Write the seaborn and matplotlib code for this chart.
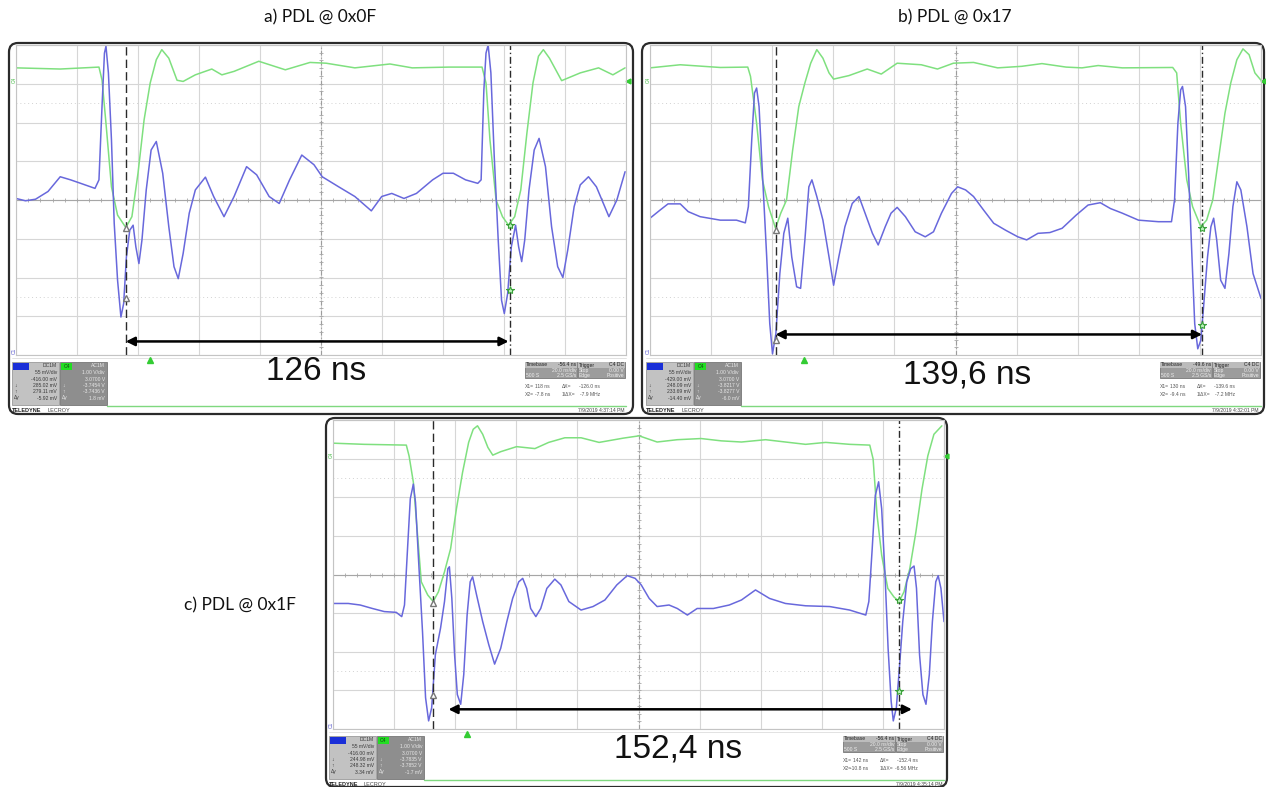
import numpy as np
import matplotlib
matplotlib.use("Agg")
import matplotlib.pyplot as plt
import seaborn as sns
from matplotlib.patches import FancyBboxPatch, Rectangle

# time in ns (20 ns/div, 10 div), amplitude in screen divisions (-4..4)

# ---- a) PDL @ 0x0F
a_green_t = [0.0, 14.5, 27.2, 28.2, 29.5, 31.3, 33.3, 36.0, 38.0, 40.0, 42.0, 44.0, 46.0, 47.8, 50.1, 52.8,
             54.8, 58.8, 64.2, 67.5, 71.5, 79.6, 88.3, 96.4, 101.7, 111.1, 122.6, 129.9, 142.0, 152.8, 154.1,
             155.4, 157.4, 159.5, 161.5, 163.5, 165.5, 167.5, 169.5, 171.3, 172.9, 174.9, 178.9, 185.0, 191.0,
             195.7, 199.7]
a_green_v = [3.41, 3.38, 3.43, 3.10, 1.98, 0.34, -0.39, -0.71, -0.43, 0.69, 2.07, 3.02, 3.62, 3.88, 3.66, 3.09,
             3.06, 3.23, 3.38, 3.23, 3.32, 3.58, 3.36, 3.55, 3.53, 3.41, 3.51, 3.41, 3.43, 3.43, 3.02,
             1.55, 0.0, -0.43, -0.65, -0.43, 0.26, 1.72, 3.02, 3.71, 3.88, 3.66, 3.08, 3.28, 3.41,
             3.23, 3.41]
a_blue_t = [0.0, 3.1, 6.4, 10.5, 14.5, 17.9, 21.2, 25.9, 27.2, 28.2, 29.0, 29.5, 30.3, 31.3, 32.2, 33.3, 34.4,
            35.3, 36.2, 37.3, 38.4, 39.3, 40.3, 41.3, 42.7, 44.3, 46.0, 48.1, 50.1, 51.8, 53.2, 54.8, 56.8,
            58.8, 62.1, 64.8, 68.2, 71.5, 75.6, 78.9, 83.0, 86.3, 89.7, 93.7, 97.7, 100.4, 105.8, 111.1,
            116.5, 119.9, 123.2, 127.2, 131.3, 136.6, 140.0, 143.4, 147.4, 151.4, 152.5, 153.4, 154.1, 154.8,
            155.7, 156.8, 158.1, 159.2, 160.1, 161.2, 162.4, 163.8, 164.8, 165.8, 166.8, 168.2, 169.9, 171.5,
            173.6, 175.6, 177.6, 179.3, 180.9, 183.0, 185.0, 187.7, 190.3, 194.4, 197.0, 199.7]
a_blue_v = [0.04, -0.02, 0.02, 0.22, 0.60, 0.52, 0.43, 0.30, 0.52, 2.41, 3.79, 3.97, 3.28, 1.55, -0.60, -2.07,
            -3.02, -2.67, -1.47, -0.78, -0.65, -1.21, -1.64, -1.03, 0.26, 1.29, 1.51, 0.69, -0.69, -1.72,
            -2.03, -1.38, -0.34, 0.26, 0.59, 0.09, -0.43, 0.09, 0.86, 0.65, 0.09, -0.09, 0.52, 1.16, 0.91,
            0.60, 0.34, 0.09, -0.28, 0.09, 0.17, 0.04, 0.17, 0.52, 0.69, 0.69, 0.52, 0.43, 0.52, 2.84, 3.79,
            4.0, 3.28, 1.12, -1.03, -2.59, -2.93, -2.41, -1.21, -0.65, -1.21, -1.59, -1.03, 0.26, 1.29, 1.59,
            0.86, -0.69, -1.72, -2.00, -1.29, -0.17, 0.39, 0.60, 0.34, -0.43, 0.0, 0.73]
a_cursor = [36.0, 162.0]
a_cursor_green = [-0.71, -0.65]
a_cursor_blue = [-2.54, -2.33]
a_arrow = [36.0, 161.5, -3.65]
a_trigger = 43.8
a_ch1 = ["DC1M", "55 mV/div", "-416.00 mV", "285.02 mV", "279.11 mV", "-5.92 mV"]
a_ch4 = ["AC1M", "1.00 V/div", "3.0700 V", "-3.7454 V", "-3.7436 V", "1.8 mV"]
a_timebase = "-56.4 ns"
a_x1 = ["118 ns", "-126.0 ns"]
a_x2 = ["-7.8 ns", "-7.9 MHz"]
a_date = "7/9/2019 4:37:14 PM"

# ---- b) PDL @ 0x17
b_green_t = [0.0, 9.9, 23.0, 32.0, 32.9, 34.9, 36.8, 38.8, 41.1, 42.8, 44.7, 46.7, 48.7, 50.7, 52.6, 54.6,
             56.6, 58.6, 60.1, 65.1, 71.1, 75.7, 80.9, 88.8, 94.1, 99.3, 105.9, 113.8, 121.7, 128.3, 136.2,
             141.4, 146.7, 154.6, 171.1, 172.4, 173.7, 175.7, 177.6, 180.3, 182.2, 184.2, 186.2, 188.2, 190.1,
             192.1, 194.1, 196.1, 198.0, 200.0]
b_green_v = [3.41, 3.49, 3.42, 3.43, 3.19, 1.98, 0.52, -0.17, -0.73, -0.34, 0.0, 1.29, 2.41, 3.02, 3.53, 3.88,
             3.66, 3.28, 3.12, 3.21, 3.38, 3.25, 3.53, 3.49, 3.38, 3.53, 3.55, 3.41, 3.45, 3.52, 3.43,
             3.41, 3.47, 3.41, 3.42, 3.28, 1.98, 0.52, -0.17, -0.69, -0.52, 0.0, 1.12, 2.24, 3.02,
             3.62, 3.90, 3.75, 3.28, 3.09]
b_blue_t = [0.0, 3.3, 5.9, 9.9, 12.5, 16.4, 23.0, 28.3, 31.2, 32.2, 33.3, 34.2, 34.9, 35.7, 36.8, 38.2, 39.2,
            40.1, 41.2, 42.5, 43.8, 45.1, 46.4, 48.0, 49.3, 50.7, 52.0, 53.0, 54.6, 56.6, 58.6, 60.1, 61.8,
            63.8, 66.2, 68.4, 70.4, 72.8, 74.7, 77.0, 78.9, 80.9, 83.6, 86.8, 90.1, 92.8, 95.4, 98.7, 100.7,
            103.3, 105.9, 109.2, 112.5, 116.4, 120.4, 123.3, 127.0, 130.9, 134.9, 139.5, 143.4, 147.4, 150.7,
            154.6, 159.9, 166.4, 170.7, 171.7, 172.8, 173.7, 174.3, 175.3, 176.3, 177.4, 178.3, 179.3, 180.3,
            181.2, 182.5, 183.6, 184.5, 185.5, 186.8, 188.2, 189.5, 190.8, 192.1, 193.4, 195.4, 197.4, 200.0]
b_blue_v = [-0.47, -0.26, -0.10, -0.10, -0.30, -0.43, -0.52, -0.52, -0.59, -0.17, 1.55, 2.76, 2.89, 2.41, 0.69,
            -1.47, -3.19, -3.97, -3.45, -1.90, -0.86, -0.47, -1.47, -2.24, -2.28, -1.03, 0.34, 0.52, 0.09,
            -0.52, -1.47, -2.20, -1.47, -0.69, -0.09, 0.09, -0.34, -0.86, -1.16, -0.69, -0.34, -0.19, -0.43,
            -0.82, -0.95, -0.82, -0.34, 0.17, 0.34, 0.26, 0.09, -0.26, -0.60, -0.78, -0.95, -1.03, -0.86,
            -0.84, -0.73, -0.39, -0.13, -0.07, -0.22, -0.34, -0.52, -0.56, -0.56, 0.0, 1.98, 2.84, 2.93, 2.41,
            0.69, -1.47, -3.19, -3.84, -3.62, -2.76, -1.47, -0.69, -0.47, -1.03, -2.07, -2.28, -1.38, -0.17,
            0.47, 0.26, -0.69, -1.90, -2.54]
b_cursor = [41.1, 180.7]
b_cursor_green = [-0.77, -0.73]
b_cursor_blue = [-3.62, -3.23]
b_arrow = [41.1, 180.7, -3.47]
b_trigger = 50.4
b_ch1 = ["DC1M", "55 mV/div", "-429.00 mV", "248.09 mV", "233.69 mV", "-14.40 mV"]
b_ch4 = ["AC1M", "1.00 V/div", "3.0700 V", "-3.8217 V", "-3.8277 V", "-6.0 mV"]
b_timebase = "-49.6 ns"
b_x1 = ["130 ns", "-139.6 ns"]
b_x2 = ["-9.4 ns", "-7.2 MHz"]
b_date = "7/9/2019 4:32:01 PM"

# ---- c) PDL @ 0x1F
c_green_t = [0.0, 10.2, 24.0, 24.9, 26.3, 27.6, 28.9, 31.0, 32.8, 34.5, 36.5, 38.5, 40.4, 42.4, 44.4, 45.9,
             47.3, 49.0, 50.7, 52.3, 54.9, 60.1, 66.1, 70.6, 75.9, 81.2, 87.1, 95.0, 100.2, 106.1, 112.7,
             120.5, 127.1, 133.7, 141.6, 148.1, 154.7, 161.3, 169.1, 175.7, 176.8, 178.1, 179.6, 181.6, 183.6,
             185.3, 186.9, 188.8, 190.8, 192.8, 194.7, 196.7, 199.3]
c_green_v = [3.40, 3.37, 3.35, 3.07, 2.39, 1.10, -0.19, -0.53, -0.70, -0.45, 0.07, 0.67, 1.70, 2.64, 3.42, 3.76,
             3.85, 3.63, 3.29, 3.09, 3.18, 3.31, 3.26, 3.42, 3.54, 3.54, 3.42, 3.53, 3.59, 3.43, 3.49,
             3.52, 3.46, 3.43, 3.49, 3.43, 3.37, 3.42, 3.37, 3.35, 2.99, 1.53, 0.50, -0.36, -0.58,
             -0.70, -0.45, 0.15, 1.10, 2.21, 3.07, 3.63, 3.85]
c_blue_t = [0.0, 5.0, 8.9, 12.9, 16.8, 20.7, 22.5, 23.4, 24.4, 25.3, 26.3, 27.0, 28.1, 29.3, 30.3, 31.3, 32.3,
            33.5, 35.2, 36.5, 37.6, 38.1, 38.9, 39.8, 40.7, 41.8, 42.8, 43.9, 44.9, 45.7, 47.0, 49.0, 51.0,
            52.9, 54.9, 56.9, 58.8, 60.8, 62.1, 63.4, 64.7, 66.4, 68.0, 70.0, 72.6, 74.6, 77.2, 81.2, 85.1,
            89.0, 92.9, 96.3, 98.9, 100.9, 103.5, 106.1, 110.0, 112.7, 116.0, 119.2, 124.5, 129.7, 133.7,
            138.3, 142.9, 148.1, 154.7, 162.6, 169.1, 174.4, 175.4, 176.5, 177.5, 178.6, 179.6, 180.7, 181.7,
            182.7, 183.4, 184.4, 185.4, 186.5, 187.8, 189.1, 190.2, 191.0, 192.0, 193.1, 194.1, 195.2, 196.2,
            197.3, 198.1, 199.0, 200.0]
c_blue_v = [-0.75, -0.75, -0.79, -0.88, -0.96, -0.98, -1.09, -0.79, 0.67, 1.96, 2.34, 1.87, 0.24, -1.48, -3.19,
            -3.79, -3.45, -2.08, -1.39, -0.70, 0.15, 0.20, -0.62, -2.08, -3.11, -3.36, -2.59, -1.05, -0.19,
            -0.06, -0.53, -1.22, -1.82, -2.32, -1.91, -1.22, -0.62, -0.19, -0.10, -0.36, -0.88, -1.09, -0.88,
            -0.36, -0.12, -0.27, -0.70, -0.92, -0.83, -0.66, -0.27, -0.03, -0.10, -0.27, -0.62, -0.83, -0.79,
            -0.88, -1.05, -0.88, -0.88, -0.79, -0.66, -0.40, -0.62, -0.75, -0.81, -0.83, -0.92, -1.05, -0.70,
            0.67, 2.04, 2.40, 1.70, -0.02, -1.91, -3.28, -3.79, -3.45, -2.42, -1.22, -0.19, 0.15, 0.22, -0.36,
            -2.08, -3.11, -3.36, -2.59, -1.22, -0.19, -0.03, -0.36, -1.22]
c_cursor = [32.8, 185.2]
c_cursor_green = [-0.75, -0.66]
c_cursor_blue = [-3.11, -3.02]
c_arrow = [37.8, 189.5, -3.49]
c_trigger = 43.7
c_ch1 = ["DC1M", "55 mV/div", "-416.00 mV", "244.98 mV", "248.32 mV", "3.34 mV"]
c_ch4 = ["AC1M", "1.00 V/div", "3.0700 V", "-3.7835 V", "-3.7852 V", "-1.7 mV"]
c_timebase = "-56.4 ns"
c_x1 = ["142 ns", "-152.4 ns"]
c_x2 = ["-10.8 ns", "-6.56 MHz"]
c_date = "7/9/2019 4:35:14 PM"

titles = ["a) PDL @ 0x0F", "b) PDL @ 0x17", "c) PDL @ 0x1F"]
deltas = ["126 ns", "139,6 ns", "152,4 ns"]

GREEN = "#7fe07f"
BLUE = "#6868dc"
W, H = 1266, 787

sns.set_theme(style="white")
plt.rcParams["font.family"] = ["Liberation Sans", "DejaVu Sans"]

fig = plt.figure(figsize=(W / 100, H / 100), dpi=100)
fig.patch.set_facecolor("white")

# pixel overlay for frames, info bars and text
ov = fig.add_axes([0, 0, 1, 1], zorder=-1)
ov.set_xlim(0, W)
ov.set_ylim(H, 0)
ov.axis("off")


def px_axes(x0, y0, x1, y1):
    return fig.add_axes([x0 / W, 1 - y1 / H, (x1 - x0) / W, (y1 - y0) / H])


def draw_scope(ax, gt, gv, bt, bv, cur, cur_g, cur_b, arrow, trig):
    ax.set_facecolor("white")
    ax.set_xlim(0, 200)
    ax.set_ylim(-4, 4)
    ax.set_xticks(np.arange(0, 201, 20))
    ax.set_yticks(np.arange(-4, 5, 1))
    ax.tick_params(length=0, labelbottom=False, labelleft=False)
    ax.grid(True, color="#d6d6d6", lw=0.8)
    for s in ax.spines.values():
        s.set_color("#c4c4c4")
        s.set_linewidth(0.8)
    ax.axhline(0, color="#a6a6a6", lw=0.8)
    ax.axvline(100, color="#9c9c9c", lw=0.8, ls=(0, (4, 2, 1, 2)))
    for y in (2.5, -2.5):
        ax.axhline(y, color="#d2d2d2", lw=0.7, ls=(0, (1, 3)))
    # small ticks along the centre cross
    ax.plot(np.arange(4, 200, 4), np.zeros(49), ls="none", marker="|", ms=3, mew=0.6, color="#a6a6a6")
    ax.plot(np.full(39, 100.0), np.arange(-3.8, 4, 0.2), ls="none", marker="_", ms=3, mew=0.6, color="#a6a6a6")

    sns.lineplot(x=np.array(gt), y=np.array(gv), ax=ax, color=GREEN, lw=1.1, sort=False, estimator=None)
    sns.lineplot(x=np.array(bt), y=np.array(bv), ax=ax, color=BLUE, lw=1.1, sort=False, estimator=None)
    ax.set_xlabel("")
    ax.set_ylabel("")

    ax.axvline(cur[0], color="#2a2a2a", lw=1.0, ls=(0, (6, 3)))
    ax.axvline(cur[1], color="#2a2a2a", lw=1.0, ls=(0, (5, 2, 1, 2)))
    ax.plot([cur[0], cur[0]], [cur_g[0], cur_b[0]], ls="none", marker="^", ms=5,
            mfc="white", mec="#777777", mew=1)
    ax.plot([cur[1], cur[1]], [cur_g[1], cur_b[1]], ls="none", marker="*", ms=6,
            mfc="#b8f0b8", mec="#3aa03a", mew=0.8)
    ax.annotate("", xy=(arrow[1], arrow[2]), xytext=(arrow[0], arrow[2]),
                arrowprops=dict(arrowstyle="<|-|>", color="black", lw=1.8, mutation_scale=13,
                                shrinkA=0, shrinkB=0))
    ax.plot([trig], [-4.12], marker="^", ms=4, color="#33cc33", clip_on=False)
    ax.plot([200.8], [3.07], marker="<", ms=3.5, color="#33cc33", clip_on=False)
    ax.text(-1.5, 3.1, "C4", color="#44bb44", fontsize=3.5, rotation=90, ha="left", va="center")
    ax.text(-1.5, -3.9, "C1", color="#5555cc", fontsize=3.5, rotation=90, ha="left", va="center")


def draw_info(ox, oy, rx, ch1, ch4, tbase, x1, x2, date):
    fs = 3.6
    # channel 1 box
    ov.add_patch(Rectangle((ox - 4, oy + 7), 47, 43, fc="#c2c2c2", ec="#9a9a9a", lw=0.6))
    ov.add_patch(Rectangle((ox - 3, oy + 8), 16, 7, fc="#1a2fd8", ec="none"))
    # channel 4 box
    ov.add_patch(Rectangle((ox + 44, oy + 7), 47, 43, fc="#8e8e8e", ec="#777777", lw=0.6))
    ov.add_patch(Rectangle((ox + 45, oy + 8), 11, 7, fc="#22dd22", ec="none"))
    ov.text(ox + 50.5, oy + 11.5, "C4", fontsize=fs, color="#114411", ha="center", va="center")
    rows = [10.5, 18, 24.5, 30.5, 36.5, 43]
    for k in range(6):
        ov.text(ox + 41, oy + rows[k], ch1[k], fontsize=fs, color="#3a3a3a", ha="right", va="center")
        ov.text(ox + 89, oy + rows[k], ch4[k], fontsize=fs, color="#e8e8e8", ha="right", va="center")
    for k, sym in zip([3, 4, 5], ["↓", "↑", "Δy"]):
        ov.text(ox - 2, oy + rows[k], sym, fontsize=fs, color="#3a3a3a", ha="left", va="center")
        ov.text(ox + 46, oy + rows[k], sym, fontsize=fs, color="#e8e8e8", ha="left", va="center")

    # timebase / trigger boxes
    ov.add_patch(Rectangle((rx - 101, oy + 7), 52, 16, fc="#9c9c9c", ec="#777777", lw=0.6))
    ov.add_patch(Rectangle((rx - 48, oy + 7), 47, 16, fc="#9c9c9c", ec="#777777", lw=0.6))
    ov.add_patch(Rectangle((rx - 101, oy + 7), 52, 5.5, fc="#bcbcbc", ec="none"))
    ov.add_patch(Rectangle((rx - 48, oy + 7), 47, 5.5, fc="#bcbcbc", ec="none"))
    tb_rows = [10, 15.5, 20.5]
    ov.text(rx - 100, oy + tb_rows[0], "Timebase", fontsize=fs, color="#222222", va="center")
    ov.text(rx - 50, oy + tb_rows[0], tbase, fontsize=fs, color="#222222", ha="right", va="center")
    ov.text(rx - 50, oy + tb_rows[1], "20.0 ns/div", fontsize=fs, color="#eeeeee", ha="right", va="center")
    ov.text(rx - 100, oy + tb_rows[2], "500 S", fontsize=fs, color="#eeeeee", va="center")
    ov.text(rx - 50, oy + tb_rows[2], "2.5 GS/s", fontsize=fs, color="#eeeeee", ha="right", va="center")
    ov.text(rx - 47, oy + tb_rows[0], "Trigger", fontsize=fs, color="#222222", va="center")
    ov.text(rx - 2, oy + tb_rows[0], "C4 DC", fontsize=fs, color="#222222", ha="right", va="center")
    ov.text(rx - 47, oy + tb_rows[1], "Stop", fontsize=fs, color="#eeeeee", va="center")
    ov.text(rx - 2, oy + tb_rows[1], "0.00 V", fontsize=fs, color="#eeeeee", ha="right", va="center")
    ov.text(rx - 47, oy + tb_rows[2], "Edge", fontsize=fs, color="#eeeeee", va="center")
    ov.text(rx - 2, oy + tb_rows[2], "Positive", fontsize=fs, color="#eeeeee", ha="right", va="center")
    for yy, lab, v, lab2, v2 in [(32, "X1=", x1[0], "ΔX=", x1[1]), (39, "X2=", x2[0], "1/ΔX=", x2[1])]:
        ov.text(rx - 101, oy + yy, lab, fontsize=fs, color="#555555", va="center")
        ov.text(rx - 76, oy + yy, v, fontsize=fs, color="#555555", ha="right", va="center")
        ov.text(rx - 64, oy + yy, lab2, fontsize=fs, color="#555555", va="center")
        ov.text(rx - 26, oy + yy, v2, fontsize=fs, color="#555555", ha="right", va="center")

    # bottom line, maker and date
    ov.plot([ox + 91, rx], [oy + 51, oy + 51], color="#7fd87f", lw=1.0)
    ov.plot([ox - 4, rx], [oy + 3, oy + 3], color="#dddddd", lw=0.6)
    ov.text(ox - 4, oy + 55, "TELEDYNE", fontsize=4.0, fontweight="bold", color="#222222", va="center")
    ov.text(ox + 31, oy + 55, "LECROY", fontsize=4.0, color="#444444", va="center")
    ov.text(rx - 2, oy + 55, date, fontsize=fs, color="#444444", ha="right", va="center")


panels = [
    (16, 45, 626, 355, 9, 43, 633, 414,
     a_green_t, a_green_v, a_blue_t, a_blue_v, a_cursor, a_cursor_green, a_cursor_blue, a_arrow, a_trigger,
     a_ch1, a_ch4, a_timebase, a_x1, a_x2, a_date),
    (650, 45, 1261, 355, 642, 43, 1264, 414,
     b_green_t, b_green_v, b_blue_t, b_blue_v, b_cursor, b_cursor_green, b_cursor_blue, b_arrow, b_trigger,
     b_ch1, b_ch4, b_timebase, b_x1, b_x2, b_date),
    (333, 420, 944, 729, 326, 418, 947, 787,
     c_green_t, c_green_v, c_blue_t, c_blue_v, c_cursor, c_cursor_green, c_cursor_blue, c_arrow, c_trigger,
     c_ch1, c_ch4, c_timebase, c_x1, c_x2, c_date),
]

for p in panels:
    gx0, gy0, gx1, gy1, fx0, fy0, fx1, fy1 = p[:8]
    ov.add_patch(FancyBboxPatch((fx0, fy0), fx1 - fx0, fy1 - fy0,
                                boxstyle="round,pad=0,rounding_size=9",
                                fc="white", ec="#2b2b2b", lw=1.6))
    ax = px_axes(gx0, gy0, gx1, gy1)
    draw_scope(ax, *p[8:17])
    draw_info(gx0, gy1, gx1, *p[17:])

# titles and measured periods
title_font = ["Lato", "DejaVu Sans"]
ov.text(320, 17, titles[0], fontsize=12.5, family=title_font, ha="center", va="center", color="#111111")
ov.text(955, 17, titles[1], fontsize=12.5, family=title_font, ha="center", va="center", color="#111111")
ov.text(240, 605, titles[2], fontsize=12.5, family=title_font, ha="center", va="center", color="#111111")
ov.text(316, 372, deltas[0], fontsize=24, ha="center", va="center", color="#111111")
ov.text(967, 375, deltas[1], fontsize=24, ha="center", va="center", color="#111111")
ov.text(678, 749, deltas[2], fontsize=24, ha="center", va="center", color="#111111")

fig.savefig("out.png", dpi=100, facecolor="white")
